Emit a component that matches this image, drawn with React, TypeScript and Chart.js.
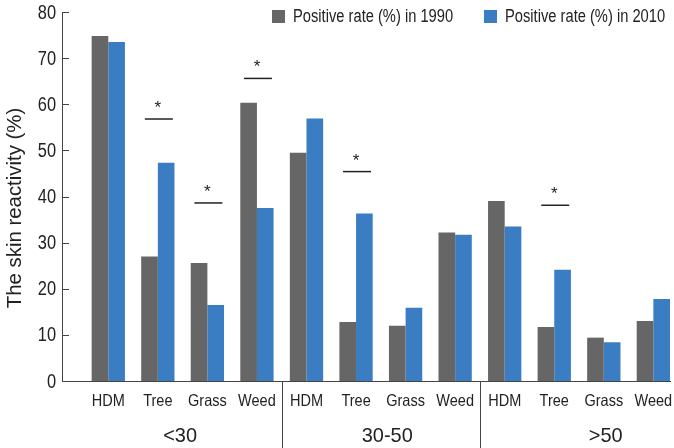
import React, { useEffect, useRef } from "react";
import { Chart, registerables } from "chart.js";

Chart.register(...registerables);

const categories = ["HDM", "Tree", "Grass", "Weed", "HDM", "Tree", "Grass", "Weed", "HDM", "Tree", "Grass", "Weed"];
const rate1990 = [74.8, 27.0, 25.6, 60.3, 49.5, 12.8, 12.0, 32.2, 39.0, 11.7, 9.4, 13.0];
const rate2010 = [73.5, 47.3, 16.5, 37.5, 56.9, 36.3, 15.9, 31.7, 33.5, 24.1, 8.4, 17.8];
const seriesNames = ["Positive rate (%) in 1990", "Positive rate (%) in 2010"];
const groupLabels = ["<30", "30-50", ">50"];
const groupSizes = [4, 4, 4];
const sigCategoryIndex = [1, 2, 3, 5, 9];
const sigLineValues = [56.8, 38.6, 65.6, 45.4, 38.1];
const yTickValues = [0, 10, 20, 30, 40, 50, 60, 70, 80];
const yTitle = "The skin reactivity (%)";

// layout / style constants
const GRAY = "#666666";
const BLUE = "#3a7dc3";
const INK = "#222222";
const FONT = "'Liberation Sans', Arial, sans-serif";
const X_MIN = 0.066;
const X_MAX = 12.356;
const groupLabelShift = [-0.05, 0.13, 0.54];

function drawText(ctx: any, text: string, x: number, y: number, size: number, sx: number, align: string, baseline = "middle") {
  ctx.save();
  ctx.translate(x, y);
  ctx.scale(sx, 1);
  ctx.font = `${size}px ${FONT}`;
  ctx.textAlign = align;
  ctx.textBaseline = baseline;
  ctx.fillStyle = INK;
  ctx.fillText(text, 0, 0);
  ctx.restore();
}

const overlay = {
  id: "overlay",
  afterDraw(chart: any) {
    const ctx = chart.ctx;
    const x = chart.scales.x;
    const y = chart.scales.y;
    const area = chart.chartArea;
    const H = chart.height;
    const y0 = Math.round(y.getPixelForValue(0)) + 0.5;
    const ax = Math.round(area.left) + 0.5;
    ctx.save();
    ctx.strokeStyle = "#444";
    ctx.lineWidth = 1;
    // axes
    ctx.beginPath();
    ctx.moveTo(ax, y.getPixelForValue(80));
    ctx.lineTo(ax, y0);
    ctx.lineTo(area.right, y0);
    ctx.stroke();
    // y ticks (inward) and labels
    ctx.beginPath();
    y.ticks.forEach((t: any, i: number) => {
      const py = Math.round(y.getPixelForTick(i)) + 0.5;
      ctx.moveTo(area.left, py);
      ctx.lineTo(area.left + 7, py);
    });
    ctx.stroke();
    y.ticks.forEach((t: any, i: number) => {
      drawText(ctx, String(t.label), area.left - 6, y.getPixelForTick(i) + 1, 20, 0.82, "right");
    });
    // x tick labels
    x.ticks.forEach((t: any, i: number) => {
      drawText(ctx, String(t.label), x.getPixelForTick(i), 401, 16.5, 0.88, "center");
    });
    // group dividers + labels
    let start = 0;
    groupSizes.forEach((n, gi) => {
      const end = start + n;
      if (gi < groupSizes.length - 1) {
        const px = Math.round(x.getPixelForValue(end + 0.5)) + 0.5;
        ctx.beginPath();
        ctx.moveTo(px, y0);
        ctx.lineTo(px, H);
        ctx.stroke();
      }
      const c = (start + 1 + end) / 2 + groupLabelShift[gi];
      drawText(ctx, groupLabels[gi], x.getPixelForValue(c), 436, 21, 0.95, "center");
      start = end;
    });
    // significance marks
    ctx.strokeStyle = INK;
    ctx.lineWidth = 1.5;
    sigCategoryIndex.forEach((ci, i) => {
      const cx = x.getPixelForValue(ci + 1) + 1;
      const py = y.getPixelForValue(sigLineValues[i]);
      ctx.beginPath();
      ctx.moveTo(cx - 14, py);
      ctx.lineTo(cx + 14, py);
      ctx.stroke();
      drawText(ctx, "*", cx - 1, py - 6, 17, 1, "center", "alphabetic");
    });
    // legend
    const legendX = [272, 484];
    [GRAY, BLUE].forEach((col, i) => {
      ctx.fillStyle = col;
      ctx.fillRect(legendX[i], 10, 13, 13);
      drawText(ctx, seriesNames[i], legendX[i] + 21, 17, 17.5, 0.84, "left");
    });
    // y title
    ctx.translate(15, 208);
    ctx.rotate(-Math.PI / 2);
    drawText(ctx, yTitle, 0, 0, 21, 0.97, "center");
    ctx.restore();
  },
};

export default function App() {
  const ref = useRef<HTMLCanvasElement>(null);
  useEffect(() => {
    if (!ref.current) return;
    const chart = new Chart(ref.current, {
      type: "bar",
      data: {
        datasets: [
          {
            label: seriesNames[0],
            data: rate1990.map((v, i) => ({ x: i + 1, y: v })),
            backgroundColor: GRAY,
            borderWidth: 0,
          },
          {
            label: seriesNames[1],
            data: rate2010.map((v, i) => ({ x: i + 1, y: v })),
            backgroundColor: BLUE,
            borderWidth: 0,
          },
        ],
      },
      options: {
        animation: false,
        responsive: false,
        layout: { padding: { top: 12, right: 3, left: 0, bottom: 0 } },
        datasets: { bar: { barPercentage: 1, categoryPercentage: 0.672 } },
        plugins: { legend: { display: false }, tooltip: { enabled: false } },
        scales: {
          x: {
            type: "linear",
            offset: false,
            min: X_MIN,
            max: X_MAX,
            grid: { display: false, drawTicks: false, offset: false },
            border: { display: false },
            afterBuildTicks: (s: any) => {
              s.ticks = categories.map((_, i) => ({ value: i + 1 }));
            },
            afterFit: (s: any) => {
              s.height = 67;
              s.paddingLeft = 0;
              s.paddingRight = 0;
            },
            ticks: {
              display: false,
              autoSkip: false,
              maxRotation: 0,
              callback: (v: any) => categories[Math.round(v) - 1] ?? "",
            },
          },
          y: {
            min: 0,
            max: 80,
            grid: { display: false, drawTicks: false },
            border: { display: false },
            afterBuildTicks: (s: any) => {
              s.ticks = yTickValues.map((v) => ({ value: v }));
            },
            afterFit: (s: any) => {
              s.width = 62;
              s.paddingTop = 0;
              s.paddingBottom = 0;
            },
            ticks: { display: false },
          },
        },
      },
      plugins: [overlay],
    });
    return () => chart.destroy();
  }, []);
  return (
    <div style={{ position: "absolute", left: 0, top: 0, width: 674, height: 448, background: "#fff" }}>
      <canvas ref={ref} width={674} height={448} style={{ display: "block" }} />
    </div>
  );
}
